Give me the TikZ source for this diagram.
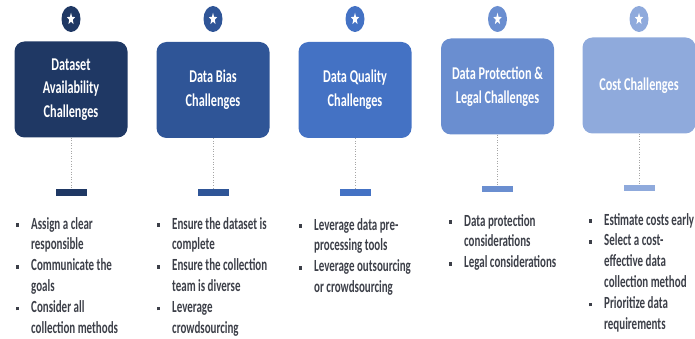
\documentclass[tikz,border=0pt]{standalone}
\usepackage{fontspec}
\usepackage{xcolor}
\usetikzlibrary{shapes.geometric, positioning, calc}

\newfontfamily\calib[FakeStretch=0.68]{Carlito}
\newfontfamily\caliblist[FakeStretch=0.645]{Carlito}

\definecolor{navyA}{HTML}{1F3864}
\definecolor{navyB}{HTML}{2F5597}
\definecolor{navyC}{HTML}{4472C4}
\definecolor{navyD}{HTML}{6A8ED0}
\definecolor{navyE}{HTML}{8FAADC}
\definecolor{listgray}{HTML}{3C3F48}

\newcommand{\bul}{\makebox[15pt][l]{\rule[2.2pt]{2.6pt}{3.6pt}}}

\begin{document}
\begin{tikzpicture}[x=1pt, y=1pt,
  challenge/.style={rectangle, rounded corners=10pt, minimum width=113pt, minimum height=96pt,
    inner sep=2pt, align=center, text=white, font={\calib\bfseries\fontsize{18}{23.7}\selectfont}},
  badge/.style={ellipse, minimum width=19pt, minimum height=26pt, inner sep=0pt},
  starmark/.style={star, star points=5, star point ratio=2.4, fill=white, minimum size=12.5pt,
    inner sep=0pt, xscale=0.7, transform shape},
  marker/.style={rectangle, minimum width=31pt, minimum height=6.5pt, inner sep=0pt},
  link/.style={gray!70, line width=0.9pt, dash pattern=on 1pt off 1.6pt},
  itemlist/.style={anchor=base west, inner sep=0pt, text=listgray,
    font={\caliblist\bfseries\fontsize{17}{20.9}\selectfont}}]

\useasboundingbox (0,0) rectangle (695,-339);

% Challenge boxes, badges and markers
\foreach \i/\x/\by/\my/\col/\txt in {
    1/71/-89.5/-192.5/navyA/{Dataset\\Availability\\Challenges},
    2/213/-90/-192.5/navyB/{Data Bias\\Challenges},
    3/355/-90/-192.5/navyC/{Data Quality\\Challenges},
    4/497.5/-86.5/-189/navyD/{Data Protection \&\\Legal Challenges},
    5/639/-85.5/-188/navyE/{Cost Challenges}} {
    \node[badge, fill=\col] (bd\i) at (\x,-19) {};
    \node[starmark] (st\i) at (bd\i) {};
    \node[challenge, fill=\col] (b\i) at (\x,\by) {\txt};
    \node[marker, fill=\col] (m\i) at (\x,\my) {};
    \draw[link] (b\i.south) -- (m\i.north);
}

% Bullet lists
\node[itemlist] (l1) at (16,-229) {\begin{tabular}[t]{@{}l@{}l@{}}
  \bul & Assign a clear\\ & responsible\\
  \bul & Communicate the\\ & goals\\
  \bul & Consider all\\ & collection methods
\end{tabular}};
\node[itemlist] (l2) at (157,-229) {\begin{tabular}[t]{@{}l@{}l@{}}
  \bul & Ensure the dataset is\\ & complete\\
  \bul & Ensure the collection\\ & team is diverse\\
  \bul & Leverage\\ & crowdsourcing
\end{tabular}};
\node[itemlist] (l3) at (299,-230) {\begin{tabular}[t]{@{}l@{}l@{}}
  \bul & Leverage data pre-\\ & processing tools\\
  \bul & Leverage outsourcing\\ & or crowdsourcing
\end{tabular}};
\node[itemlist] (l4) at (449,-226) {\begin{tabular}[t]{@{}l@{}l@{}}
  \bul & Data protection\\ & considerations\\
  \bul & Legal considerations
\end{tabular}};
\node[itemlist] (l5) at (589,-225) {\begin{tabular}[t]{@{}l@{}l@{}}
  \bul & Estimate costs early\\
  \bul & Select a cost-\\ & effective data\\ & collection method\\
  \bul & Prioritize data\\ & requirements
\end{tabular}};
\end{tikzpicture}
\end{document}
